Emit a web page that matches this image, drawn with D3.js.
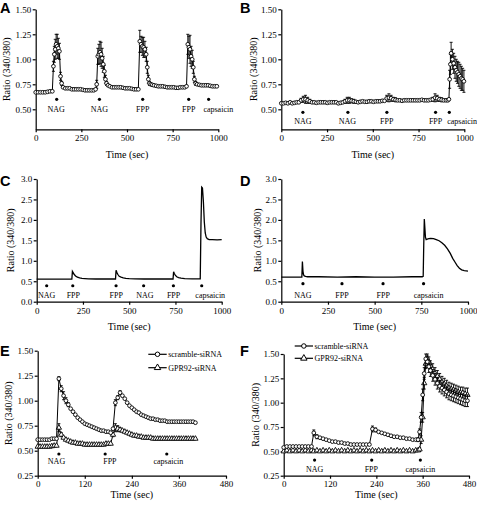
<!DOCTYPE html>
<html><head><meta charset="utf-8">
<script src="https://cdn.jsdelivr.net/npm/d3@7"></script>
<style>body{margin:0;background:#fff}svg{display:block}</style>
</head><body><svg id="chart" width="477" height="505"></svg>
<script>
// ---------------- DATA ----------------
// Panel A
const timeA = [0,13,26,39,52,65,78,91, 97,102,107,112,118,124,130,136,142,
 150,162,174,186,198,210,222,234,246,258,270,282,294,306,318,328,
 334,340,346,352,358,364,370,376,382,388,396,
 406,418,430,442,454,466,478,490,502,514,526,538,550,562,
 570,577,584,591,598,605,611,617,623,630,638,
 648,660,672,684,696,708,720,732,744,756,768,780,792,804,816,826,
 833,839,845,851,857,863,869,876,884,
 896,908,920,932,944,956,968,980,992];
const ratioA = [0.67,0.67,0.67,0.67,0.67,0.675,0.68,0.68,
 0.93,1.05,1.10,1.15,1.13,1.11,1.08,0.83,0.76,
 0.72,0.71,0.71,0.71,0.70,0.70,0.70,0.70,0.70,0.695,0.69,0.69,0.69,0.69,0.69,0.70,
 0.75,1.03,1.05,1.07,1.05,1.01,0.95,0.88,0.80,0.76,0.74,
 0.73,0.72,0.72,0.72,0.72,0.72,0.715,0.71,0.71,0.71,0.705,0.70,0.70,0.70,
 1.18,1.15,1.13,1.12,1.10,1.05,0.92,0.80,0.76,0.75,0.745,
 0.74,0.735,0.73,0.73,0.73,0.725,0.72,0.72,0.72,0.72,0.715,0.715,0.72,0.72,0.72,0.73,
 1.15,1.12,1.10,1.03,1.00,0.92,0.80,0.76,0.75,
 0.745,0.74,0.74,0.74,0.74,0.735,0.73,0.73,0.73];
const semA = [0.01,0.01,0.01,0.01,0.01,0.01,0.01,0.01,
 0.05,0.08,0.10,0.10,0.12,0.10,0.08,0.04,0.02,
 0.01,0.01,0.01,0.01,0.01,0.01,0.01,0.01,0.01,0.01,0.01,0.01,0.01,0.01,0.01,0.01,
 0.04,0.08,0.10,0.11,0.12,0.10,0.08,0.06,0.04,0.02,0.01,
 0.01,0.01,0.01,0.01,0.01,0.01,0.01,0.01,0.01,0.01,0.01,0.01,0.01,0.01,
 0.11,0.08,0.09,0.10,0.08,0.07,0.06,0.04,0.02,0.01,0.01,
 0.01,0.01,0.01,0.01,0.01,0.01,0.01,0.01,0.01,0.01,0.01,0.01,0.01,0.01,0.01,0.01,
 0.10,0.11,0.14,0.10,0.09,0.06,0.03,0.02,0.01,
 0.01,0.01,0.01,0.01,0.01,0.01,0.01,0.01,0.01];
const stimA = [115,349,586,838,947];
const stimLabelA = ["NAG","NAG","FPP","FPP","capsaicin"];
const stimLabelAtA = [112,349,586,838,1000];

// Panel B
const timeB = [0,12,24,36,48,60,72,84,96, 108,120,132,144,156,
 168,180,192,204,216,228,240,252,264,276,288,300,312,324,336,
 348,360,372,384,396,
 408,420,432,444,456,468,480,492,504,516,528,540,552,564,
 576,588,600,612,624,
 636,648,660,672,684,696,708,720,732,744,756,768,780,792,804,816,
 828,840,852,864,876,
 888,900,910,
 916,920,924,928,935,942,949,956,963,970,977,984,991,998];
const ratioB = [0.56,0.56,0.565,0.56,0.57,0.56,0.565,0.57,0.57,
 0.59,0.60,0.60,0.59,0.58,
 0.57,0.57,0.565,0.57,0.57,0.57,0.57,0.565,0.57,0.57,0.57,0.57,0.56,0.565,0.57,
 0.58,0.59,0.59,0.585,0.58,
 0.575,0.57,0.575,0.58,0.575,0.575,0.58,0.58,0.575,0.58,0.58,0.58,0.585,0.585,
 0.61,0.615,0.61,0.60,0.595,
 0.59,0.59,0.585,0.59,0.59,0.59,0.59,0.59,0.59,0.59,0.59,0.595,0.59,0.59,0.59,0.595,
 0.60,0.615,0.61,0.60,0.595,
 0.59,0.59,0.59,
 0.60,0.80,0.95,1.06,1.00,0.96,0.92,0.89,0.87,0.85,0.83,0.81,0.80,0.78];
const semB = [0.01,0.01,0.01,0.01,0.01,0.01,0.01,0.01,0.01,
 0.02,0.03,0.04,0.03,0.02,
 0.01,0.01,0.01,0.01,0.01,0.01,0.01,0.01,0.01,0.01,0.01,0.01,0.01,0.01,0.01,
 0.02,0.03,0.03,0.02,0.02,
 0.01,0.01,0.01,0.01,0.01,0.01,0.01,0.01,0.01,0.01,0.01,0.01,0.01,0.01,
 0.03,0.04,0.03,0.02,0.02,
 0.01,0.01,0.01,0.01,0.01,0.01,0.01,0.01,0.01,0.01,0.01,0.01,0.01,0.01,0.01,0.01,
 0.02,0.04,0.03,0.02,0.02,
 0.01,0.01,0.01,
 0.01,0.09,0.10,0.11,0.10,0.10,0.11,0.11,0.11,0.12,0.12,0.12,0.11,0.11];
const stimB = [118,364,577,843,918];
const stimLabelB = ["NAG","NAG","FPP","FPP","capsaicin"];
const stimLabelAtB = [118,361,576,843,988];

// Panel C (single trace)
const timeC = [0,100,190,193,197,202,210,220,232,245,260,280,320,380,426,429,433,438,446,456,
 468,482,500,530,580,650,700,737,740,744,749,757,767,780,800,840,884,888,892,896,
 901,906,911,916,922,932,950,975,1000];
const ratioC = [0.55,0.55,0.55,0.74,0.71,0.67,0.63,0.60,0.58,0.57,0.565,0.56,0.555,0.555,0.555,0.77,0.72,0.67,0.62,0.60,
 0.58,0.57,0.565,0.56,0.555,0.555,0.555,0.555,0.73,0.69,0.65,0.61,0.59,0.575,0.565,0.56,0.56,1.9,2.80,2.78,
 2.45,1.95,1.68,1.58,1.54,1.52,1.52,1.51,1.52];
const stimC = [54,195,429,578,739,892];
const stimLabelC = ["NAG","FPP","FPP","NAG","FPP","capsaicin"];
const stimLabelAtC = [54,198,430,585,740,938];

// Panel D (single trace)
const timeD = [0,60,110,113,116,119,123,130,140,160,200,300,400,500,600,700,755,760,763,766,
 769,772,776,782,790,800,815,830,845,860,875,890,905,918,930,942,954,966,980,1000];
const ratioD = [0.60,0.60,0.60,0.98,0.75,0.66,0.63,0.62,0.61,0.61,0.61,0.60,0.61,0.60,0.60,0.61,0.61,0.62,1.40,2.02,
 1.80,1.58,1.52,1.53,1.54,1.55,1.54,1.52,1.49,1.44,1.38,1.29,1.18,1.06,0.97,0.88,0.82,0.78,0.76,0.75];
const stimD = [116,325,545,762];
const stimLabelD = ["NAG","FPP","FPP","capsaicin"];
const stimLabelAtD = [116,325,546,789];

// Panel E
const timeE = [0,6,12,18,24,30,36,42,48,54,60,66,72,78,84,90,96,102,108,114,120,126,132,138,144,150,156,162,168,174,180,186,
 192,198,204,210,216,222,228,234,240,246,252,258,264,270,276,282,288,294,300,306,312,318,324,330,336,342,348,354,360,366,372,378,384,390,396,402];
const scrambleE = [0.61,0.61,0.61,0.61,0.61,0.61,0.62,0.62,0.62,
 1.22,1.12,1.05,1.00,0.96,0.92,0.89,0.86,0.83,0.81,0.79,0.77,0.76,0.75,0.74,0.73,0.72,0.71,0.70,0.70,0.69,0.69,0.68,
 0.72,0.98,1.03,1.08,1.05,1.02,0.98,0.95,0.93,0.91,0.89,0.88,0.86,0.85,0.84,0.83,0.82,0.82,0.81,0.81,
 0.80,0.80,0.80,0.79,0.79,0.79,0.79,0.79,0.79,0.79,0.79,0.79,0.79,0.79,0.79,0.78];
const gpr92E = [0.54,0.54,0.54,0.54,0.54,0.54,0.545,0.55,0.55,
 0.73,0.66,0.63,0.61,0.60,0.59,0.58,0.58,0.57,0.57,0.57,0.56,0.56,0.56,0.56,0.56,0.56,0.56,0.56,0.56,0.57,0.57,0.57,
 0.66,0.73,0.72,0.71,0.70,0.69,0.68,0.67,0.66,0.65,0.65,0.64,0.64,0.63,0.63,0.63,0.63,0.62,0.62,0.62,
 0.62,0.62,0.62,0.62,0.62,0.62,0.62,0.62,0.62,0.62,0.62,0.62,0.62,0.62,0.62,0.62];
const semScrambleE = [0.01,0.01,0.01,0.01,0.01,0.01,0.01,0.01,0.01,
 0.02,0.03,0.04,0.03,0.02,0.01,0.01,0.01,0.01,0.01,0.01,0.01,0.01,0.01,0.01,0.01,0.01,0.01,0.01,0.01,0.01,0.01,0.01,
 0.01,0.03,0.02,0.02,0.01,0.01,0.01,0.01,0.01,0.01,0.01,0.01,0.01,0.01,0.01,0.01,0.01,0.01,0.01,0.01,
 0.01,0.01,0.01,0.01,0.01,0.01,0.01,0.01,0.01,0.01,0.01,0.01,0.01,0.01,0.01,0.01];
const semGpr92E = [0.01,0.01,0.01,0.01,0.01,0.01,0.01,0.01,0.01,
 0.04,0.02,0.01,0.01,0.01,0.01,0.01,0.01,0.01,0.01,0.01,0.01,0.01,0.01,0.01,0.01,0.01,0.01,0.01,0.01,0.01,0.01,0.01,
 0.02,0.04,0.03,0.02,0.01,0.01,0.01,0.01,0.01,0.01,0.01,0.01,0.01,0.01,0.01,0.01,0.01,0.01,0.01,0.01,
 0.01,0.01,0.01,0.01,0.01,0.01,0.01,0.01,0.01,0.01,0.01,0.01,0.01,0.01,0.01,0.01];
const stimE = [54,172,329];
const stimLabelE = ["NAG","FPP","capsaicin"];
const stimLabelAtE = [48,184,333];

// Panel F
const timeF = [0,8,16,24,32,40,48,56,64,72,
 78,86,94,102,110,118,126,134,142,150,158,166,174,182,190,198,206,214,222,
 230,238,246,254,262,270,278,286,294,302,310,318,326,334,342,
 348,352,356,360,364,368,372,376,380,386,392,398,404,410,416,422,428,434,440,446,452,458,464,470,476];
const scrambleF = [0.54,0.55,0.55,0.55,0.55,0.55,0.55,0.55,0.55,0.55,
 0.69,0.65,0.64,0.63,0.62,0.61,0.60,0.60,0.59,0.59,0.58,0.58,0.57,0.57,0.57,0.57,0.57,0.57,0.57,
 0.73,0.72,0.70,0.69,0.68,0.67,0.66,0.65,0.65,0.64,0.64,0.63,0.63,0.62,0.62,
 0.62,0.70,0.85,1.08,1.30,1.45,1.42,1.37,1.33,1.28,1.24,1.20,1.17,1.15,1.13,1.11,1.09,1.08,1.07,1.06,1.05,1.04,1.03,1.02,1.02];
const gpr92F = [0.50,0.51,0.50,0.51,0.50,0.51,0.50,0.51,0.50,0.51,
 0.50,0.51,0.50,0.51,0.50,0.51,0.50,0.51,0.50,0.51,0.50,0.51,0.50,0.51,0.50,0.51,0.50,0.51,0.50,
 0.51,0.50,0.51,0.50,0.51,0.50,0.51,0.50,0.51,0.50,0.51,0.50,0.51,0.50,0.51,
 0.51,0.52,0.62,0.85,1.20,1.40,1.45,1.42,1.38,1.34,1.30,1.27,1.24,1.21,1.19,1.17,1.15,1.14,1.13,1.12,1.11,1.10,1.10,1.09,1.08];
const semScrambleF = [0.01,0.01,0.01,0.01,0.01,0.01,0.01,0.01,0.01,0.01,
 0.03,0.02,0.01,0.01,0.01,0.01,0.01,0.01,0.01,0.01,0.01,0.01,0.01,0.01,0.01,0.01,0.01,0.01,0.01,
 0.03,0.02,0.01,0.01,0.01,0.01,0.01,0.01,0.01,0.01,0.01,0.01,0.01,0.01,0.01,
 0.02,0.03,0.05,0.06,0.06,0.05,0.06,0.06,0.06,0.06,0.06,0.06,0.06,0.06,0.06,0.06,0.06,0.06,0.06,0.06,0.06,0.06,0.06,0.06,0.06];
const semGpr92F = [0,0,0,0,0,0,0,0,0,0,
 0,0,0,0,0,0,0,0,0,0,0,0,0,0,0,0,0,0,0,
 0,0,0,0,0,0,0,0,0,0,0,0,0,0,0,
 0.01,0.02,0.04,0.05,0.06,0.05,0.05,0.05,0.05,0.06,0.06,0.06,0.06,0.06,0.06,0.06,0.06,0.06,0.06,0.06,0.06,0.06,0.06,0.06,0.07];
const stimF = [80,228,354];
const stimLabelF = ["NAG","FPP","capsaicin"];
const stimLabelAtF = [80,227,354];

const seriesNames = ["scramble-siRNA","GPR92-siRNA"];
const ticks1000 = [0,250,500,750,1000];
const ticks480 = [0,120,240,360,480];
const ticksRatioAB = [0.50,0.75,1.00,1.25,1.50];
const ticksRatioCD = [0,0.5,1.0,1.5,2.0,2.5,3.0];
const ticksRatioEF = [0.25,0.50,0.75,1.00,1.25,1.50];

// ---------------- DRAWING ----------------
const SERIF = '"Liberation Serif","Times New Roman",serif';
const SANS = '"Liberation Sans",Arial,sans-serif';
const svg = d3.select("#chart");

function drawPanel(p) {
  const x = d3.scaleLinear().domain(p.xDomain).range(p.xRange);
  const y = d3.scaleLinear().domain(p.yDomain).range(p.yRange);
  const g = svg.append("g");

  const ax = g.append("g").attr("transform", `translate(0,${p.yRange[0]})`)
    .call(d3.axisBottom(x).tickValues(p.xTicks).tickFormat(d3.format("d")).tickSize(3).tickSizeOuter(0).tickPadding(p.xPad || 2.5));
  const ay = g.append("g").attr("transform", `translate(${p.xRange[0]},0)`)
    .call(d3.axisLeft(y).tickValues(p.yTicks).tickFormat(d3.format(p.yFmt)).tickSize(3).tickSizeOuter(0).tickPadding(1.5));
  [ax, ay].forEach(a => {
    a.attr("font-family", SERIF);
    a.selectAll("path,line").attr("stroke", "#000").attr("stroke-width", 1.2);
    a.selectAll("text").attr("font-family", SERIF).attr("font-size", 9).attr("fill", "#000");
  });

  // axis titles
  g.append("text").attr("x", (p.xRange[0] + p.xRange[1]) / 2).attr("y", p.xTitleY)
    .attr("dy", "0.35em").attr("text-anchor", "middle").attr("font-family", SERIF)
    .attr("font-size", 10).attr("fill", "#000").text("Time (sec)");
  g.append("text").attr("transform", `translate(${p.yTitleX},${(p.yRange[0] + p.yRange[1]) / 2}) rotate(-90)`)
    .attr("dy", "0.35em").attr("text-anchor", "middle").attr("font-family", SERIF)
    .attr("font-size", 10).attr("fill", "#000").text("Ratio (340/380)");
  // panel letter
  g.append("text").attr("x", p.letterX).attr("y", p.letterY).attr("font-family", SANS)
    .attr("font-weight", "bold").attr("font-size", 14.5).attr("fill", "#000").text(p.letter);

  // stimulus dots & labels
  g.selectAll(null).data(p.stim).join("circle")
    .attr("cx", d => x(d)).attr("cy", y(p.stimY)).attr("r", 1.6).attr("fill", "#000");
  g.selectAll(null).data(p.stimLabels).join("text")
    .attr("x", (d, i) => x(p.stimLabelAt[i])).attr("y", y(p.stimY) + p.labelOff)
    .attr("text-anchor", "middle").attr("font-family", SERIF).attr("font-size", 8)
    .attr("fill", "#000").text(d => d);

  // series
  (p.series || []).forEach(s => {
    const pts = s.t.map((t, i) => ({t, v: s.v[i], e: s.e ? (s.e[i] || 0) : 0}));
    if (s.e) {
      const eb = g.append("g").attr("stroke", "#000").attr("stroke-width", 0.9);
      pts.filter(d => d.e > 0.012).forEach(d => {
        const cx = x(d.t), y1 = y(d.v - d.e), y2 = y(d.v + d.e);
        eb.append("line").attr("x1", cx).attr("x2", cx).attr("y1", y1).attr("y2", y2);
        eb.append("line").attr("x1", cx - 1.5).attr("x2", cx + 1.5).attr("y1", y1).attr("y2", y1);
        eb.append("line").attr("x1", cx - 1.5).attr("x2", cx + 1.5).attr("y1", y2).attr("y2", y2);
      });
    }
    g.append("path").datum(pts)
      .attr("d", d3.line().x(d => x(d.t)).y(d => y(d.v)))
      .attr("fill", "none").attr("stroke", "#000").attr("stroke-width", s.marker ? 1 : 1.3);
    if (s.marker) {
      g.selectAll(null).data(pts).join("path")
        .attr("transform", d => `translate(${x(d.t)},${y(d.v)})`)
        .attr("d", d3.symbol().type(s.marker === "circle" ? d3.symbolCircle : d3.symbolTriangle).size(s.marker === "circle" ? 11 : 12)())
        .attr("fill", "#fff").attr("stroke", "#000").attr("stroke-width", 0.9);
    }
  });

  // legend
  if (p.legend) {
    p.legend.forEach((l, i) => {
      const ly = p.legendY[i];
      g.append("line").attr("x1", p.legendX[0]).attr("x2", p.legendX[1]).attr("y1", ly).attr("y2", ly)
        .attr("stroke", "#000").attr("stroke-width", 1.2);
      g.append("path").attr("transform", `translate(${(p.legendX[0] + p.legendX[1]) / 2},${ly})`)
        .attr("d", d3.symbol().type(l.marker === "circle" ? d3.symbolCircle : d3.symbolTriangle).size(l.marker === "circle" ? 16 : 18)())
        .attr("fill", "#fff").attr("stroke", "#000").attr("stroke-width", 1);
      g.append("text").attr("x", p.legendX[1] + 1.5).attr("y", ly).attr("dy", "0.35em")
        .attr("font-family", SERIF).attr("font-size", 8).attr("fill", "#000").text(l.name);
    });
  }
}

drawPanel({letter: "A", letterX: 0, letterY: 13, xDomain: [0, 1000], xRange: [35.7, 218.3],
  yDomain: [0.3, 1.5], yRange: [129.3, 9.3], xTicks: ticks1000, yTicks: ticksRatioAB, yFmt: ".2f",
  xTitleY: 154, yTitleX: 6.7, stim: stimA, stimLabels: stimLabelA, stimLabelAt: stimLabelAtA, stimY: 0.6, labelOff: 13,
  series: [{t: timeA, v: ratioA, e: semA, marker: "circle"}]});

drawPanel({letter: "B", letterX: 240, letterY: 13, xDomain: [0, 1000], xRange: [281.3, 464.3],
  yDomain: [0.3, 1.5], yRange: [129.3, 9.3], xTicks: ticks1000, yTicks: ticksRatioAB, yFmt: ".2f",
  xTitleY: 154, yTitleX: 253, stim: stimB, stimLabels: stimLabelB, stimLabelAt: stimLabelAtB, stimY: 0.47, labelOff: 12,
  series: [{t: timeB, v: ratioB, e: semB, marker: "circle"}]});

drawPanel({letter: "C", letterX: 0, letterY: 186, xDomain: [0, 1000], xRange: [36.7, 221.7],
  yDomain: [0, 3], yRange: [301.7, 179], xTicks: ticks1000, yTicks: ticksRatioCD, yFmt: ".1f",
  xTitleY: 326.7, yTitleX: 10.3, stim: stimC, stimLabels: stimLabelC, stimLabelAt: stimLabelAtC, stimY: 0.39, labelOff: 12.5,
  series: [{t: timeC, v: ratioC}]});

drawPanel({letter: "D", letterX: 240, letterY: 186, xDomain: [0, 1000], xRange: [281.3, 468],
  yDomain: [0, 3], yRange: [301.7, 179], xTicks: ticks1000, yTicks: ticksRatioCD, yFmt: ".1f",
  xTitleY: 326.7, yTitleX: 257, stim: stimD, stimLabels: stimLabelD, stimLabelAt: stimLabelAtD, stimY: 0.44, labelOff: 14,
  series: [{t: timeD, v: ratioD}]});

drawPanel({letter: "E", letterX: 0, letterY: 356, xDomain: [0, 480], xRange: [37.7, 226],
  yDomain: [0.25, 1.5], yRange: [475.7, 350.7], xTicks: ticks480, yTicks: ticksRatioEF, yFmt: ".2f", xPad: 1.5,
  xTitleY: 494.5, yTitleX: 8.8, stim: stimE, stimLabels: stimLabelE, stimLabelAt: stimLabelAtE, stimY: 0.467, labelOff: 10,
  series: [{t: timeE, v: gpr92E, e: semGpr92E, marker: "triangle"},
           {t: timeE, v: scrambleE, e: semScrambleE, marker: "circle"}],
  legend: [{name: seriesNames[0], marker: "circle"}, {name: seriesNames[1], marker: "triangle"}],
  legendX: [148.3, 166.7], legendY: [354.3, 367.7]});

drawPanel({letter: "F", letterX: 240, letterY: 356, xDomain: [0, 480], xRange: [283.7, 469],
  yDomain: [0.25, 1.5], yRange: [475.7, 354], xTicks: ticks480, yTicks: ticksRatioEF, yFmt: ".2f", xPad: 1.5,
  xTitleY: 494.5, yTitleX: 255, stim: stimF, stimLabels: stimLabelF, stimLabelAt: stimLabelAtF, stimY: 0.41, labelOff: 12,
  series: [{t: timeF, v: gpr92F, e: semGpr92F, marker: "triangle"},
           {t: timeF, v: scrambleF, e: semScrambleF, marker: "circle"}],
  legend: [{name: seriesNames[0], marker: "circle"}, {name: seriesNames[1], marker: "triangle"}],
  legendX: [294.7, 313], legendY: [346, 358.3]});
</script></body></html>
